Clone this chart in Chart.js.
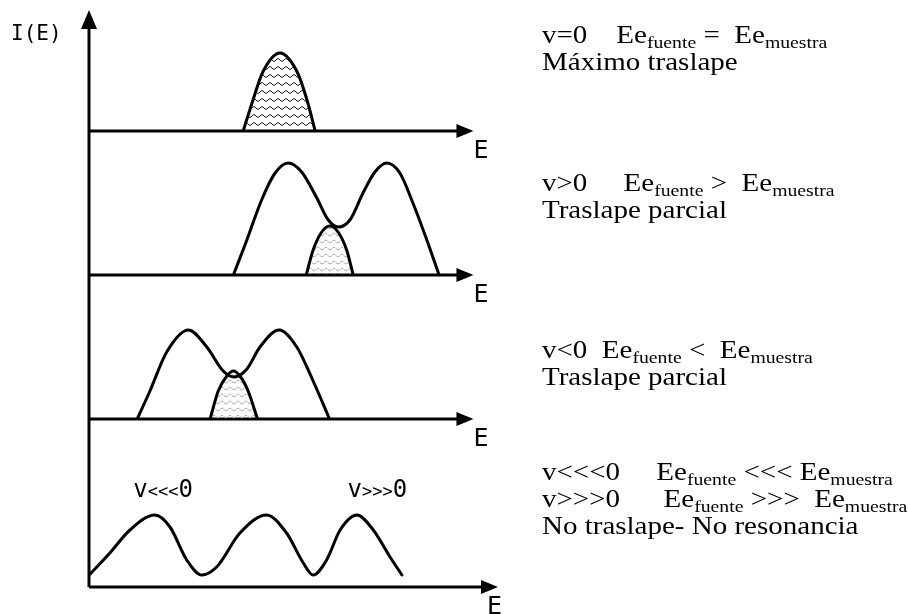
<!DOCTYPE html>
<html>
<head>
<meta charset="utf-8">
<script src="https://cdn.jsdelivr.net/npm/chart.js@4/dist/chart.umd.min.js"></script>
<style>
  html, body { margin: 0; padding: 0; background: #fff; }
</style>
</head>
<body>
<canvas id="chart" width="908" height="614"></canvas>
<script>
// E in arbitrary units (0 = I(E) axis), I(E) in arbitrary units

// v = 0 : both lines on top of each other
const p1PeakE = [37.7, 40.1, 42.5, 46.7, 50.9, 53.3, 55.3]
const p1PeakI = [0, 0.31, 0.59, 0.78, 0.59, 0.31, 0]

// v > 0
const p2WideE = [35.3, 38.6, 42.2, 45.5, 48.7, 52.0, 55.7, 58.5, 61.0, 63.8, 67.0, 69.9, 72.8, 76.0, 79.2, 82.6, 85.6]
const p2WideI = [0, 0.35, 0.75, 1.02, 1.12, 1.03, 0.77, 0.55, 0.48, 0.55, 0.82, 1.03, 1.12, 1.02, 0.72, 0.35, 0]
const p2PeakE = [53.1, 54.8, 56.9, 58.9, 60.9, 63.0, 64.6]
const p2PeakI = [0, 0.25, 0.43, 0.49, 0.43, 0.25, 0]

// v < 0
const p3WideE = [11.8, 14.9, 19.0, 24.3, 28.8, 32.8, 35.5, 38.6, 41.8, 46.5, 50.8, 54.8, 58.8]
const p3WideI = [0, 0.28, 0.67, 0.89, 0.72, 0.48, 0.42, 0.50, 0.72, 0.89, 0.72, 0.38, 0]
const p3PeakE = [29.6, 31.6, 33.7, 35.3, 36.9, 38.9, 41.2]
const p3PeakI = [0, 0.28, 0.43, 0.48, 0.43, 0.28, 0]

// v <<< 0 and v >>> 0 : no overlap
const p4E = [0.3, 5.1, 10.0, 16.1, 19.8, 23.9, 27.6, 31.2, 36.9, 43.4, 48.3, 52.4, 54.8, 58.1, 61.4, 65.5, 69.5, 73.6, 76.5]
const p4I = [0.13, 0.34, 0.57, 0.72, 0.60, 0.27, 0.12, 0.20, 0.54, 0.72, 0.54, 0.24, 0.12, 0.27, 0.57, 0.72, 0.57, 0.30, 0.12]

const panelAxes = ['y1', 'y2', 'y3', 'y4']
const axisEnd = [94, 94, 94, 100]
// label over the separated lines: [v, relation, 0]
const peakLabels = [['v', '<<<', '0'], ['v', '>>>', '0']]

// right hand notes: [text, 'n' normal | 's' subscript]
const notes = [
  [
    [['v=0    Ee', 'n'], ['fuente', 's'], [' =  Ee', 'n'], ['muestra', 's']],
    [['Máximo traslape', 'n']]
  ],
  [
    [['v>0     Ee', 'n'], ['fuente', 's'], [' >  Ee', 'n'], ['muestra', 's']],
    [['Traslape parcial', 'n']]
  ],
  [
    [['v<0  Ee', 'n'], ['fuente', 's'], [' <  Ee', 'n'], ['muestra', 's']],
    [['Traslape parcial', 'n']]
  ],
  [
    [['v<<<0     Ee', 'n'], ['fuente', 's'], [' <<< Ee', 'n'], ['muestra', 's']],
    [['v>>>0      Ee', 'n'], ['fuente', 's'], [' >>>  Ee', 'n'], ['muestra', 's']],
    [['No traslape- No resonancia', 'n']]
  ]
]
const noteTop = [43, 191, 358, 480]
const noteLeft = 542
const noteLead = 27
const noteStretch = 1.16

function pts(es, is) {
  return es.map((e, k) => ({ x: e, y: is[k] }))
}

function wavePattern(color, w, h) {
  const c = document.createElement('canvas')
  c.width = w
  c.height = h
  const g = c.getContext('2d')
  g.strokeStyle = color
  g.lineWidth = 1
  g.beginPath()
  for (let i = 0; i <= w; i++) {
    const yy = h / 2 + 1.4 * Math.sin(i / w * Math.PI * 2)
    if (i === 0) g.moveTo(i, yy)
    else g.lineTo(i, yy)
  }
  g.stroke()
  return g.createPattern(c, 'repeat')
}

const ctx0 = document.getElementById('chart').getContext('2d')
const darkWaves = wavePattern('#222', 8, 8)
const lightWaves = wavePattern('#a8a8a8', 8, 7)

// one line of the notes, Times-like text stretched a bit wider as in the scan
function drawRich(ctx, x, y, parts) {
  ctx.save()
  ctx.translate(x, y)
  ctx.scale(noteStretch, 1)
  let cx = 0
  for (const [txt, kind] of parts) {
    ctx.font = kind === 's' ? '17px "Liberation Serif"' : '25px "Liberation Serif"'
    ctx.fillText(txt, cx, kind === 's' ? 4.5 : 0)
    cx += ctx.measureText(txt).width
  }
  ctx.restore()
}

function drawPeakLabel(ctx, cx, y, parts) {
  const fonts = ['24px "DejaVu Sans Mono"', '17px "DejaVu Sans Mono"', '24px "DejaVu Sans Mono"']
  let w = 0
  parts.forEach((p, k) => { ctx.font = fonts[k]; w += ctx.measureText(p).width })
  let x = cx - w / 2
  parts.forEach((p, k) => {
    ctx.font = fonts[k]
    ctx.fillText(p, x, y)
    x += ctx.measureText(p).width
  })
}

const figure = {
  id: 'figure',
  beforeDatasetsDraw(chart) {
    const { ctx, chartArea, scales } = chart
    const x0 = scales.x.getPixelForValue(0)
    const yBottom = scales.y4.getPixelForValue(0)
    ctx.save()
    ctx.strokeStyle = '#000'
    ctx.fillStyle = '#000'
    ctx.lineWidth = 3

    // I(E) axis
    ctx.beginPath()
    ctx.moveTo(x0, yBottom)
    ctx.lineTo(x0, chartArea.top + 14)
    ctx.stroke()
    ctx.beginPath()
    ctx.moveTo(x0, chartArea.top)
    ctx.lineTo(x0 - 8, chartArea.top + 19)
    ctx.lineTo(x0 + 8, chartArea.top + 19)
    ctx.closePath()
    ctx.fill()

    // E axes
    panelAxes.forEach((id, k) => {
      const y = scales[id].getPixelForValue(0)
      const tip = scales.x.getPixelForValue(axisEnd[k])
      ctx.beginPath()
      ctx.moveTo(x0, y)
      ctx.lineTo(tip - 12, y)
      ctx.stroke()
      ctx.beginPath()
      ctx.moveTo(tip, y)
      ctx.lineTo(tip - 17, y - 7)
      ctx.lineTo(tip - 17, y + 7)
      ctx.closePath()
      ctx.fill()
      ctx.font = '25px "DejaVu Sans Mono"'
      ctx.fillText('E', k === 3 ? tip - 11 : tip, y + 27)
    })

    ctx.font = '21px "DejaVu Sans Mono"'
    ctx.fillText('I(E)', 11, 40)

    // labels over the separated lines
    const yl = scales.y4.getPixelForValue(0.9)
    drawPeakLabel(ctx, scales.x.getPixelForValue(18.1), yl, peakLabels[0])
    drawPeakLabel(ctx, scales.x.getPixelForValue(70.5), yl, peakLabels[1])

    notes.forEach((block, b) => {
      block.forEach((line, l) => drawRich(ctx, noteLeft, noteTop[b] + l * noteLead, line))
    })
    ctx.restore()
  }
}

function curve(es, is, axis, fillPattern) {
  return {
    data: pts(es, is),
    yAxisID: axis,
    borderColor: '#000',
    borderWidth: 3,
    backgroundColor: fillPattern || 'transparent',
    fill: fillPattern ? 'origin' : false,
    pointRadius: 0,
    cubicInterpolationMode: 'monotone',
    borderJoinStyle: 'round',
    borderCapStyle: 'round'
  }
}

function panelScale(weight, order) {
  return {
    type: 'linear',
    position: 'left',
    stack: 'panels',
    stackWeight: weight,
    weight: order,
    min: 0,
    max: weight / 100,
    display: false
  }
}

new Chart(ctx0, {
  type: 'line',
  data: {
    datasets: [
      curve(p1PeakE, p1PeakI, 'y1', darkWaves),
      curve(p2WideE, p2WideI, 'y2'),
      curve(p2PeakE, p2PeakI, 'y2', lightWaves),
      curve(p3WideE, p3WideI, 'y3'),
      curve(p3PeakE, p3PeakI, 'y3', lightWaves),
      curve(p4E, p4I, 'y4')
    ]
  },
  options: {
    responsive: false,
    animation: false,
    layout: { padding: { left: 89, right: 410, top: 10, bottom: 27 } },
    plugins: { legend: { display: false }, tooltip: { enabled: false } },
    scales: {
      x: { type: 'linear', min: 0, max: 100, display: false },
      y1: panelScale(121, 4),
      y2: panelScale(144, 3),
      y3: panelScale(144, 2),
      y4: panelScale(168, 1)
    }
  },
  plugins: [figure]
})
</script>
</body>
</html>
